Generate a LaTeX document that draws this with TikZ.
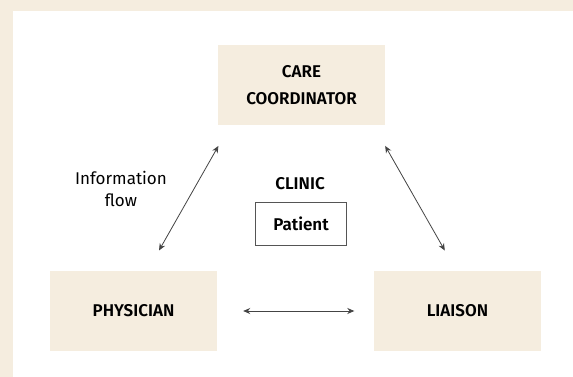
\documentclass[tikz,border=0pt]{standalone}
\usepackage{fontspec}
\setmainfont{Fira Sans}[BoldFont={Fira Sans SemiBold}]
\usetikzlibrary{calc,arrows.meta}
\definecolor{beige}{HTML}{F5EDDF}
\definecolor{arr}{HTML}{444444}
\definecolor{patborder}{HTML}{555555}
\begin{document}
\begin{tikzpicture}[x=1pt,y=-1pt,
  box/.style={fill=beige, minimum width=167pt, minimum height=80pt, inner sep=0pt,
    font=\fontsize{17}{27}\selectfont\bfseries, align=center},
  flow/.style={{Stealth[length=7pt,width=6pt]}-{Stealth[length=7pt,width=6pt]}, draw=arr, line width=0.8pt},
  lbl/.style={font=\fontsize{17}{22}\selectfont, align=center, inner sep=0pt}]
\useasboundingbox (0,0) rectangle (573,377);
\fill[beige] (-5,-5) rectangle (580,385);
\fill[white] (13,11) rectangle (580,385);
\node[box] (care) at (301.5,85) {CARE\\COORDINATOR};
\node[box] (phys) at (133.5,311) {PHYSICIAN};
\node[box] (liai) at (457.5,311) {LIAISON};
\node[draw=patborder, line width=1.4pt, minimum width=91pt, minimum height=43pt, inner sep=0pt,
  font=\fontsize{17}{20}\selectfont\bfseries] (pat) at (301,224) {Patient};
\node[lbl, font=\fontsize{17}{20}\selectfont\bfseries] (clinic) at (300,184) {CLINIC};
\node[lbl] (info) at (121,189) {Information\\flow};
\draw[flow] ($(care.south west)+(0.6,20.7)$) -- ($(phys.north)+(25.5,-20.3)$);
\draw[flow] ($(care.south east)+(0,20.7)$) -- ($(liai.north)+(-12.7,-20.3)$);
\draw[flow] ($(phys.east)+(26,0)$) -- ($(liai.west)+(-19.5,0)$);
\end{tikzpicture}
\end{document}
